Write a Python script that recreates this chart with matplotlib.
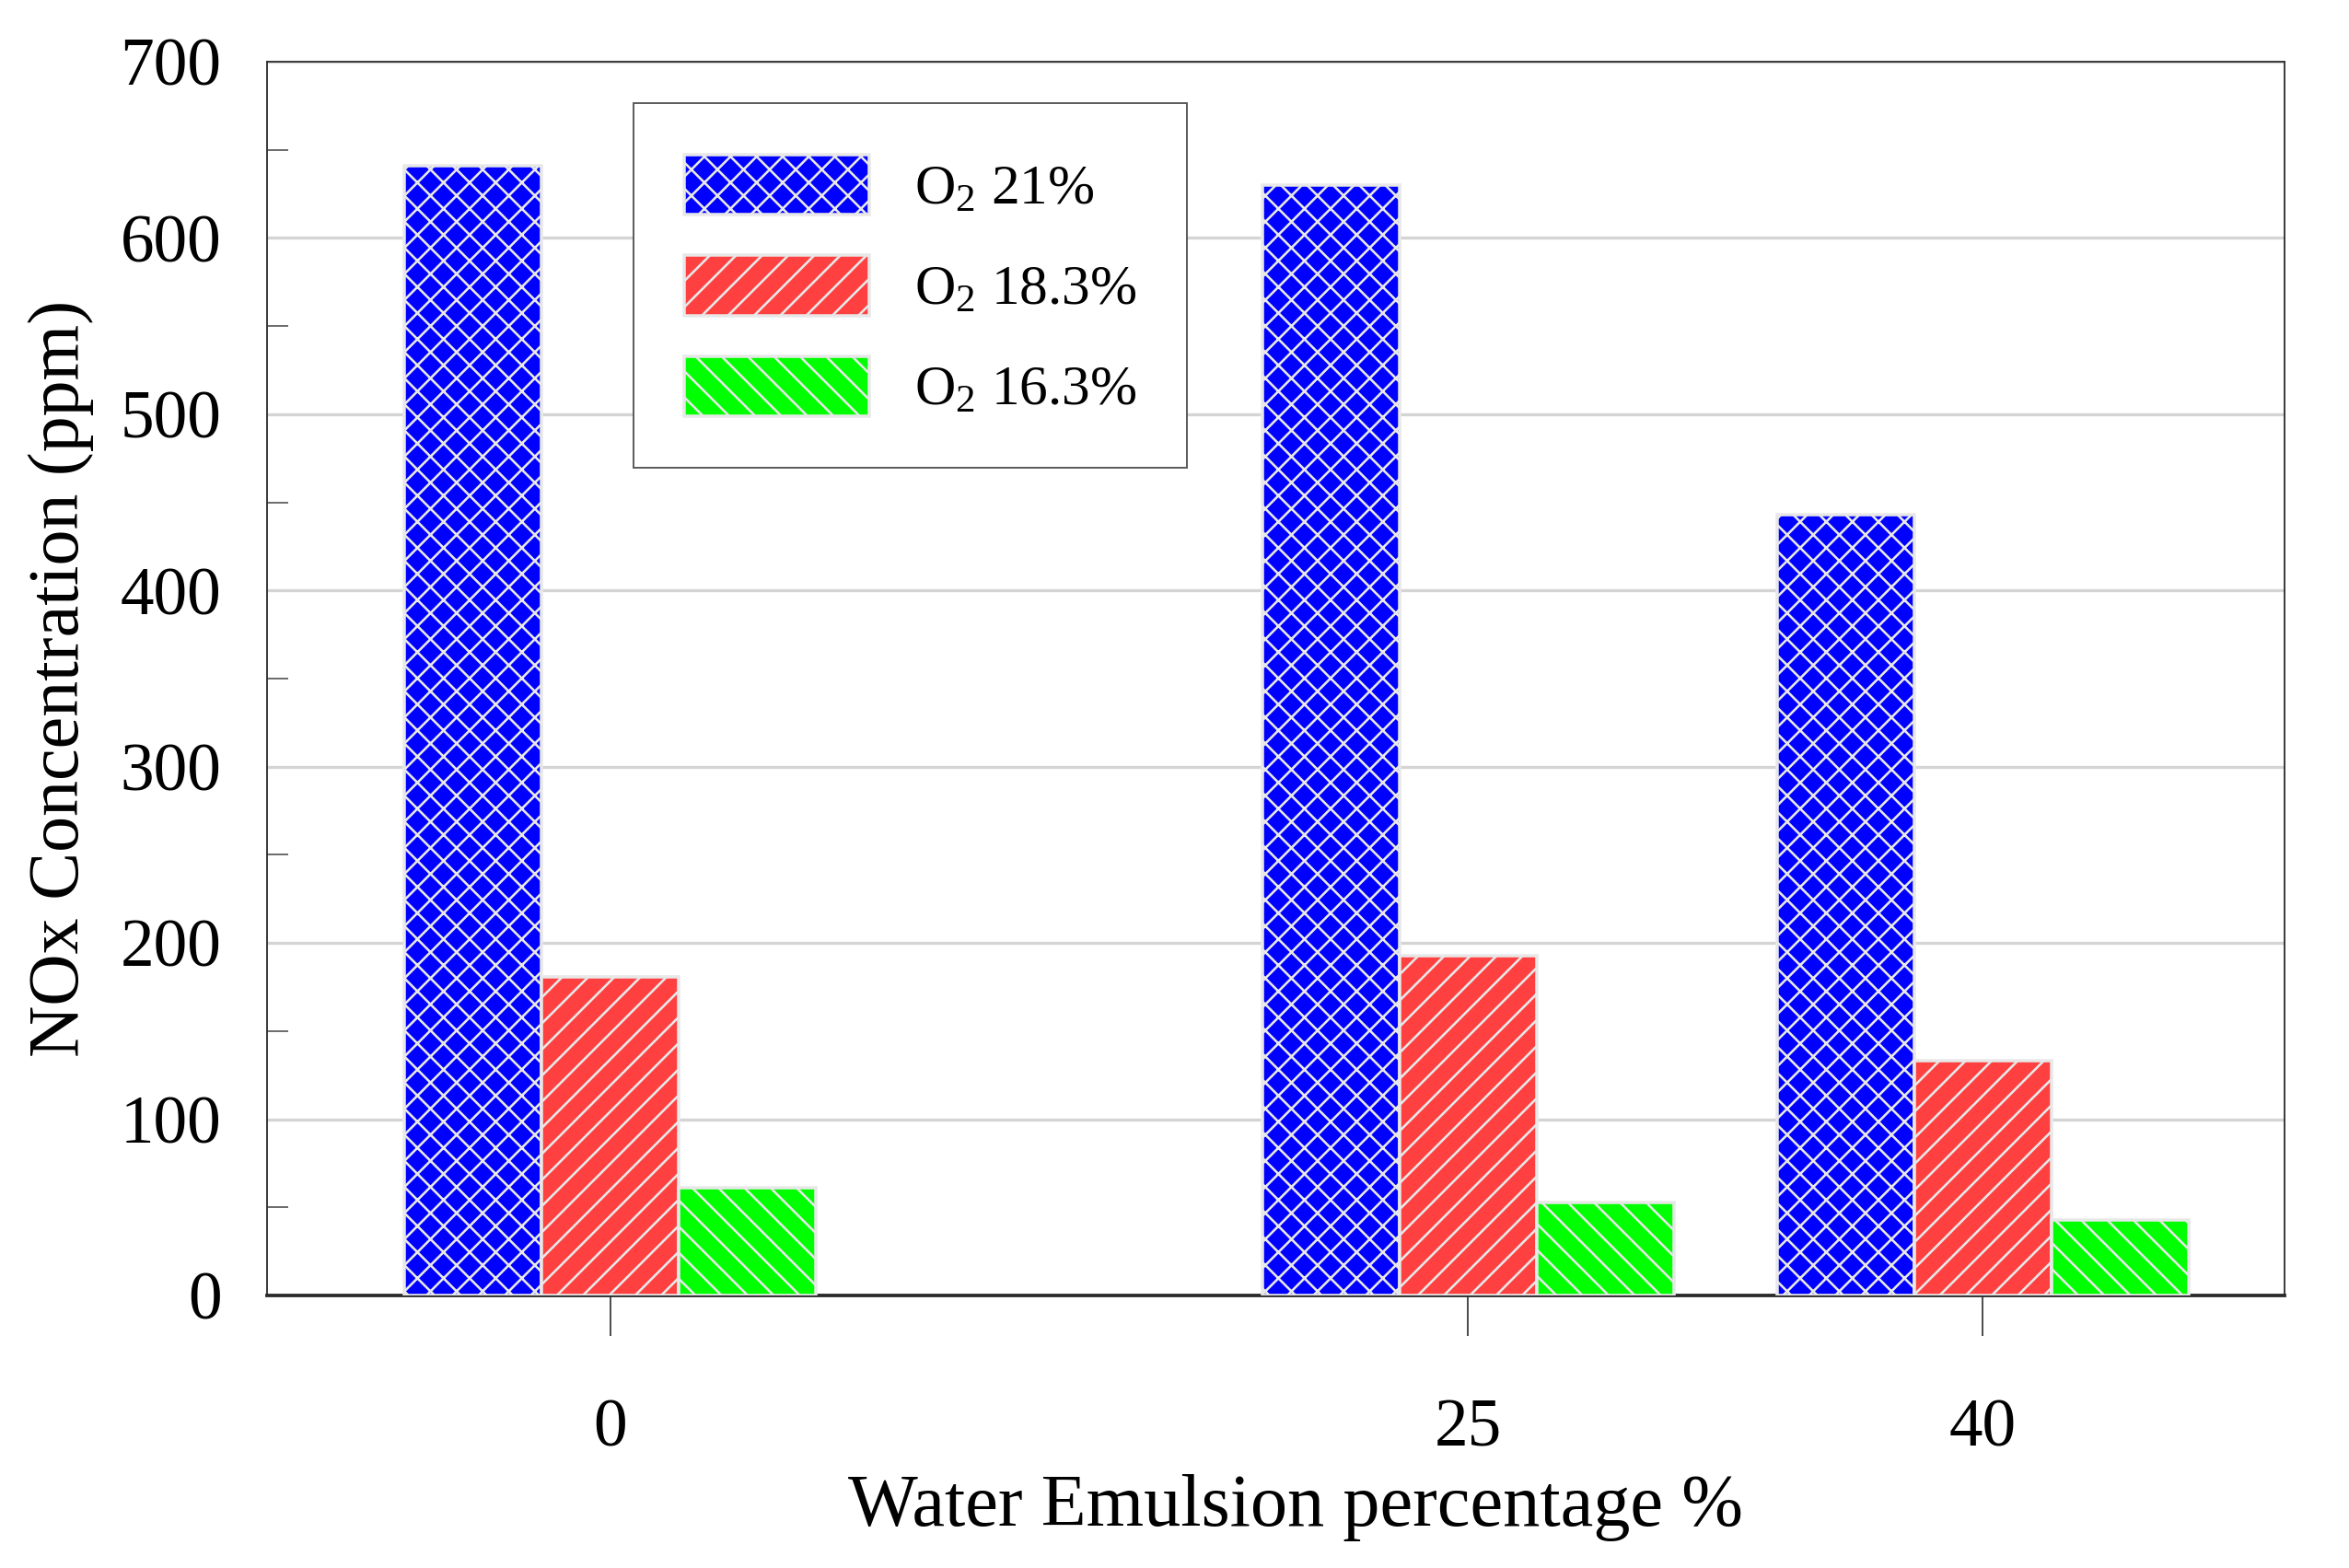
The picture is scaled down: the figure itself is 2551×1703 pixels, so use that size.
import numpy as np
import matplotlib
matplotlib.use('Agg')
import matplotlib.pyplot as plt
from matplotlib.ticker import MultipleLocator

# dados
water_pct = [0, 25, 40]
nox_21 = [641, 630, 443]
nox_183 = [181, 193, 133]
nox_163 = [61, 53, 43]
series_labels = [r'O$_2$ 21%', r'O$_2$ 18.3%', r'O$_2$ 16.3%']

plt.rcParams['font.family'] = ['Liberation Serif', 'DejaVu Serif']
plt.rcParams['mathtext.fontset'] = 'custom'
plt.rcParams['mathtext.rm'] = 'Liberation Serif'
plt.rcParams['mathtext.it'] = 'Liberation Serif'
plt.rcParams['hatch.linewidth'] = 1.1

fig = plt.figure(figsize=(2551 / 170, 1703 / 170), dpi=170)
ax = fig.add_axes([0.1137, 0.1738, 0.9726 - 0.1137, 0.9607 - 0.1738])

x = np.array(water_pct, dtype=float)
w = 4.0
edge = '#e8e8e8'
b1 = ax.bar(x - w, nox_21, w, color='#0000ff', edgecolor=edge, hatch='xx', linewidth=1.5, zorder=3)
b2 = ax.bar(x, nox_183, w, color='#ff4040', edgecolor=edge, hatch='//', linewidth=1.5, zorder=3)
b3 = ax.bar(x + w, nox_163, w, color='#00ff00', edgecolor=edge, hatch='\\\\', linewidth=1.5, zorder=3)

ax.set_xlim(-10, 48.8)
ax.set_ylim(0, 700)
ax.set_xticks(water_pct)
ax.set_xticklabels([str(v) for v in water_pct])
ax.yaxis.set_major_locator(MultipleLocator(100))
ax.yaxis.set_minor_locator(MultipleLocator(50))

ax.grid(axis='y', which='major', color='#d4d4d4', linewidth=1.4, zorder=0)
ax.set_axisbelow(True)

ax.tick_params(axis='y', which='major', length=0, labelsize=31, pad=21)
ax.tick_params(axis='y', which='minor', direction='in', length=9.7, width=0.8, color='#666666')
ax.tick_params(axis='x', which='major', direction='out', length=18.6, width=0.8, color='#444444',
               labelsize=31, pad=29)

for s in ['left', 'top', 'right']:
    ax.spines[s].set_linewidth(0.8)
    ax.spines[s].set_color('#333333')
ax.spines['bottom'].set_linewidth(1.6)
ax.spines['bottom'].set_color('#2a2a2a')

ax.set_ylabel('NOx Concentration (ppm)', fontsize=33, labelpad=12)
ax.set_xlabel('Water Emulsion percentage %', fontsize=34, labelpad=6)
ax.xaxis.label.set_x(0.51)

leg = ax.legend([b1, b2, b3], series_labels, loc='upper left', bbox_to_anchor=(0.1817, 0.966),
                borderaxespad=0, fontsize=26, handlelength=3.26, handleheight=1.27,
                handletextpad=0.8, labelspacing=0.7, borderpad=0.9, fancybox=False,
                framealpha=1, edgecolor='#555555')
leg.get_frame().set_linewidth(0.8)

fig.savefig('out.png', dpi=170)
